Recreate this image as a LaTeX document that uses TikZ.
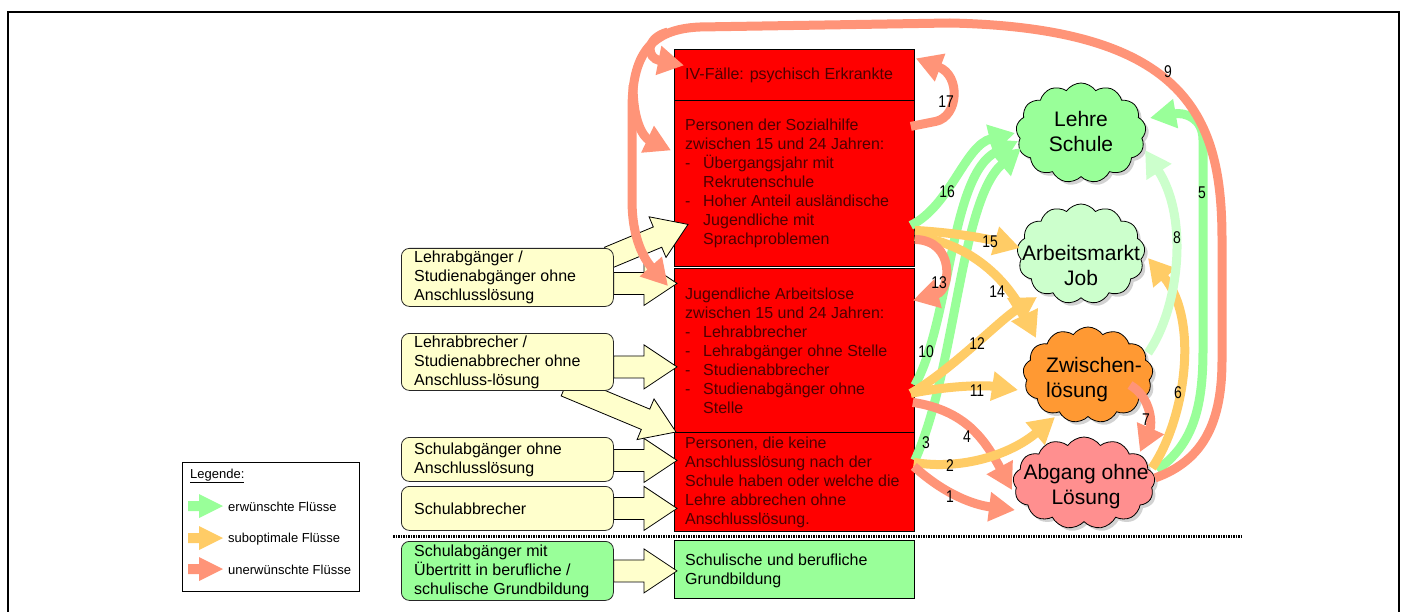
\documentclass[tikz,border=0pt]{standalone}
\usepackage{fontspec}
\setmainfont{Liberation Sans}
\usepackage{graphicx}
\usetikzlibrary{arrows.meta,calc,shapes.symbols,shadows}

\definecolor{redboxc}{HTML}{FF0000}
\definecolor{redtext}{HTML}{4D0000}
\definecolor{yfill}{HTML}{FFFFCC}
\definecolor{gfill}{HTML}{99FF99}
\definecolor{pgfill}{HTML}{CCFFCC}
\definecolor{ofill}{HTML}{FF9933}
\definecolor{pinkfill}{HTML}{FF8F8F}
\definecolor{fgreen}{HTML}{99FF99}
\definecolor{fpale}{HTML}{CCFFCC}
\definecolor{forange}{HTML}{FFCC66}
\definecolor{fred}{HTML}{FF9478}

\pgfdeclarelayer{back}
\pgfdeclarelayer{mid}
\pgfsetlayers{back,mid,main}

\newcommand{\dashit}{\makebox[18pt][l]{-}}
\newcommand{\indit}{\hspace*{18pt}}
\newcommand{\nlab}[1]{\scalebox{0.82}[1]{#1}}

\newcommand{\blockarrow}[2]{%
  \path let \p1=#1, \p2=#2 in \pgfextra{%
    \pgfmathsetmacro\baAng{atan2((\y2)-(\y1),(\x2)-(\x1))}%
    \pgfmathsetmacro\baLen{10*veclen(((\x2)-(\x1))/10,((\y2)-(\y1))/10)}%
    \xdef\baAngG{\baAng}\xdef\baLenG{\baLen}\xdef\baX{\x1}\xdef\baY{\y1}};
  \begin{scope}[shift={(\baX,\baY)}, rotate=\baAngG]
    \draw[blockst] (0pt,-11pt) -- ({\baLenG pt-33pt},-11pt) -- ({\baLenG pt-33pt},-22pt)
      -- (\baLenG pt,0pt) -- ({\baLenG pt-33pt},22pt) -- ({\baLenG pt-33pt},11pt) -- (0pt,11pt) -- cycle;
  \end{scope}}

\tikzset{
  boxred/.style={draw=black, line width=0.8pt, fill=redboxc, minimum width=240pt, inner sep=0pt},
  boxtext/.style={font=\fontsize{16}{19}\selectfont, text=redtext, align=left, inner sep=0pt},
  ybox/.style={draw=black!85, line width=0.8pt, fill=yfill, rounded corners=8pt, minimum width=212pt, inner sep=0pt},
  ytext/.style={font=\fontsize{16}{19}\selectfont, align=left, inner sep=0pt},
  blockst/.style={fill=yfill, draw=black, line width=0.8pt, line join=miter},
  cloudst/.style={cloud, cloud puffs=13, cloud puff arc=110, draw=black, line width=0.8pt,
     drop shadow={shadow xshift=3pt, shadow yshift=-3pt, fill=black!35}, inner sep=0pt},
  cloudtext/.style={font=\fontsize{21}{25}\selectfont, align=center, inner sep=0pt},
  flow/.style={line width=9pt, -{Triangle[length=26pt,width=28pt]}},
  numlab/.style={font=\fontsize{17}{17}\selectfont, inner sep=0pt},
  legtext/.style={font=\fontsize{13}{15}\selectfont, inner sep=0pt, anchor=west},
}

\begin{document}
\begin{tikzpicture}[x=1pt,y=-1pt]
\useasboundingbox (0,0) rectangle (1407,612);
\begin{pgfonlayer}{back}
\fill[white] (0,0) rectangle (1407,612);
% red boxes
\node[boxred, minimum height=51pt, anchor=north west] (iv) at (674,49) {};
\node[boxred, minimum height=166pt, anchor=north west] (soz) at (674,100) {};
\node[boxred, minimum height=164pt, anchor=north west] (jug) at (674,268) {};
\node[boxred, minimum height=99pt, anchor=north west] (pers) at (674,432) {};
\node[draw=black, line width=0.8pt, fill=gfill, minimum width=240pt, minimum height=58pt, inner sep=0pt, anchor=north west] (grund) at (674,540) {};
\end{pgfonlayer}
% frame
\draw[line width=1.6pt] (8,630) -- (8,12) -- (1399,12) -- (1399,630);

% yellow / green boxes
\node[ybox, minimum height=58pt, anchor=north west] (ya) at (401,248) {};
\node[ybox, minimum height=57pt, anchor=north west] (yb) at (401,333) {};
\node[ybox, minimum height=44pt, anchor=north west] (yc) at (401,437) {};
\node[ybox, minimum height=44pt, anchor=north west] (yd) at (401,486) {};
\node[ybox, fill=gfill, minimum height=59pt, anchor=north west] (ye) at (401,541) {};
\node[ytext, anchor=west] (yat) at ($(ya.west)+(13,0)$) {Lehrabgänger /\\Studienabgänger ohne\\Anschlusslösung};
\node[ytext, anchor=west] (ybt) at ($(yb.west)+(13,0)$) {Lehrabbrecher /\\Studienabbrecher ohne\\Anschluss-lösung};
\node[ytext, anchor=west] (yct) at ($(yc.west)+(13,0)$) {Schulabgänger ohne\\Anschlusslösung};
\node[ytext, anchor=west] (ydt) at ($(yd.west)+(13,0)$) {Schulabbrecher};
\node[ytext, anchor=west] (yet) at ($(ye.west)+(13,0)$) {Schulabgänger mit\\Übertritt in berufliche /\\schulische Grundbildung};

% block arrows
\begin{pgfonlayer}{mid}
\blockarrow{($(ya.east)+(-5,-20)$)}{($(soz.west)+(14,41)$)}
\blockarrow{($(ya.east)+(0,6)$)}{($(jug.west)+(3,-67)$)}
\blockarrow{($(yb.east)+(0,5)$)}{($(jug.west)+(3,16.5)$)}
\blockarrow{($(yb.south)+(58,-5)$)}{($(pers.north west)+(2,0)$)}
\blockarrow{($(yc.east)+(0,1)$)}{($(pers.west)+(3,-21.5)$)}
\blockarrow{(yd.east)}{($(pers.west)+(3,26.5)$)}
\blockarrow{(ye.east)}{($(grund.west)+(3,1.5)$)}
\end{pgfonlayer}

% separator
\draw[line width=3pt, dash pattern=on 1.5pt off 1pt] (393,536) -- (1243,536);

% legend
\node[draw=black, line width=1pt, minimum width=177pt, minimum height=129pt, inner sep=0pt, anchor=north west] (leg) at (182,462) {};
\node[legtext] (legt) at (190,476) {\underline{Legende:}};
\fill[fgreen] (188,501) -- (199,501) -- (199,494) -- (223,506) -- (199,518) -- (199,511) -- (188,511) -- cycle;
\fill[forange] (188,533) -- (199,533) -- (199,526) -- (223,538) -- (199,550) -- (199,543) -- (188,543) -- cycle;
\fill[fred] (188,564) -- (199,564) -- (199,557) -- (223,569) -- (199,581) -- (199,574) -- (188,574) -- cycle;
\node[legtext] (leg1) at (228,507) {erwünschte Flüsse};
\node[legtext] (leg2) at (228,539) {suboptimale Flüsse};
\node[legtext] (leg3) at (228,570) {unerwünschte Flüsse};

% clouds
\node[cloudst, fill=gfill, minimum width=130pt, minimum height=100pt] (ls) at (1081,133) {};
\node[cloudst, fill=pgfill, minimum width=128pt, minimum height=100pt] (am) at (1081,254) {};
\node[cloudst, fill=ofill, minimum width=130pt, minimum height=96pt] (zw) at (1088,375) {};
\node[cloudst, fill=pinkfill, minimum width=142pt, minimum height=92pt] (ab) at (1084,483) {};

% flows
\draw[flow,fgreen] ($(soz.east)+(-4,42)$) .. controls +(40,-20) and +(-50,12) .. ($(ls.center)+(-66,0)$);
\draw[flow,fgreen] ($(jug.east)+(0,35)$) .. controls +(36,-65) and +(-68,34) .. ($(ls.center)+(-63,8)$);
\draw[flow,fgreen] ($(pers.east)+(0,-21.5)$) .. controls +(41,-90) and +(-61,52) .. ($(ls.center)+(-60,15)$);
\draw[flow,forange] ($(soz.east)+(0,47)$) .. controls +(36,2) and +(-35,-10) .. ($(am.center)+(-61,-6)$);
\draw[flow,forange] ($(soz.east)+(0,53)$) .. controls +(51,6) and +(-31,-63) .. ($(zw.center)+(-52,-37)$);
\draw[flow,fred] ($(soz.east)+(0,56)$) .. controls +(41,1) and +(38,-10) .. ($(jug.east)+(-2,-50)$);
\draw[flow,fred] ($(soz.east)+(-4,-57)$) -- +(25,-5) .. controls +(23,-5) and +(45,17) .. ($(iv.east)+(1,-16.5)$);
\draw[flow,forange] ($(jug.east)+(-4,43)$) .. controls +(40,-23) and +(-37,23) .. ($(am.center)+(-44,43)$);
\draw[flow,forange] ($(jug.east)+(-4,43)$) .. controls +(40,-8) and +(-33,-5) .. ($(zw.center)+(-70,15)$);
\draw[flow,fred] ($(jug.east)+(-2,52)$) .. controls +(53,8) and +(-27,-50) .. ($(ab.center)+(-72,7)$);
\draw[flow,forange] ($(pers.east)+(-1,-19.5)$) .. controls +(47,8) and +(-45,38) .. ($(zw.center)+(-33,42)$);
\draw[flow,fred] ($(pers.east)+(-1,-15.5)$) .. controls +(32,29) and +(-40,-5) .. ($(ab.center)+(-69,27)$);
\draw[flow,fgreen] ($(ab.center)+(73,-13)$) .. controls +(35,-25) and +(0,60) .. (1203,350) -- (1203,140) .. controls +(0,-22) and +(35,-6) .. ($(ls.center)+(69,-15)$);
\draw[flow,forange] ($(ab.center)+(68,-15)$) .. controls +(33,-48) and +(52,62) .. ($(am.center)+(67,4)$);
\draw[flow,fred] ($(zw.center)+(42,10)$) .. controls +(22,13) and +(12,-27) .. ($(ab.center)+(56,-31)$);
\draw[flow,fpale] ($(zw.center)+(60,-22)$) .. controls +(30,-43) and +(45,70) .. ($(ls.center)+(64,17)$);
\draw[flow,fred] ($(ab.center)+(71,-5)$) .. controls +(50,-18) and +(0,60) .. (1222,360) -- (1222,240)
   .. controls (1222,120) and (1190,28) .. (950,23) -- (700,27) .. controls +(-50,2) and +(0,-55) .. (632,110)
   -- (632,200) .. controls +(0,40) and +(-23,-26) .. ($(jug.north west)+(-6,18)$);
\draw[flow,fred] (668,32) .. controls (645,38) and (646,58) .. ($(iv.west)+(10,-9.5)$);
\draw[flow,fred] (633,85) .. controls (633,125) and (645,138) .. ($(soz.west)+(-3,-33)$);

% cloud texts
\node[cloudtext] (lst) at (1081,131) {Lehre\\Schule};
\node[cloudtext] (amt) at (1081,265) {Arbeitsmarkt\\Job};
\node[cloudtext, align=left, anchor=west] (zwt) at (1046,380) {Zwischen-\\lösung};
\node[cloudtext] (abt) at (1086,487) {Abgang ohne\\Lösung};

% box texts
\node[boxtext, anchor=west] (ivt) at ($(iv.west)+(11,0)$) {IV-Fälle: psychisch Erkrankte};
\node[boxtext, anchor=west] (sozt) at ($(soz.west)+(11,0)$) {Personen der Sozialhilfe\\zwischen 15 und 24 Jahren:\\\dashit Übergangsjahr mit\\\indit Rekrutenschule\\\dashit Hoher Anteil ausländische\\\indit Jugendliche mit\\\indit Sprachproblemen};
\node[boxtext, anchor=west] (jugt) at ($(jug.west)+(11,0)$) {Jugendliche Arbeitslose\\zwischen 15 und 24 Jahren:\\\dashit Lehrabbrecher\\\dashit Lehrabgänger ohne Stelle\\\dashit Studienabbrecher\\\dashit Studienabgänger ohne\\\indit Stelle};
\node[boxtext, anchor=west] (perst) at ($(pers.west)+(11,0)$) {Personen, die keine\\Anschlusslösung nach der\\Schule haben oder welche die\\Lehre abbrechen ohne\\Anschlusslösung.};
\node[ytext, anchor=west] (grundt) at ($(grund.west)+(11,1)$) {Schulische und berufliche\\Grundbildung};

% number labels
\node[numlab] (n1) at (950,497) {\nlab{1}};
\node[numlab] (n2) at (950,466) {\nlab{2}};
\node[numlab] (n3) at (926,443) {\nlab{3}};
\node[numlab] (n4) at (967,437) {\nlab{4}};
\node[numlab] (n5) at (1202,193) {\nlab{5}};
\node[numlab] (n6) at (1178,393) {\nlab{6}};
\node[numlab] (n7) at (1146,420) {\nlab{7}};
\node[numlab] (n8) at (1177,238) {\nlab{8}};
\node[numlab] (n9) at (1168,72) {\nlab{9}};
\node[numlab] (n10) at (926,352) {\nlab{10}};
\node[numlab] (n11) at (977,391) {\nlab{11}};
\node[numlab] (n12) at (977,344) {\nlab{12}};
\node[numlab] (n13) at (939,283) {\nlab{13}};
\node[numlab] (n14) at (997,292) {\nlab{14}};
\node[numlab] (n15) at (990,242) {\nlab{15}};
\node[numlab] (n16) at (947,192) {\nlab{16}};
\node[numlab] (n17) at (946,102) {\nlab{17}};
\end{tikzpicture}
\end{document}
